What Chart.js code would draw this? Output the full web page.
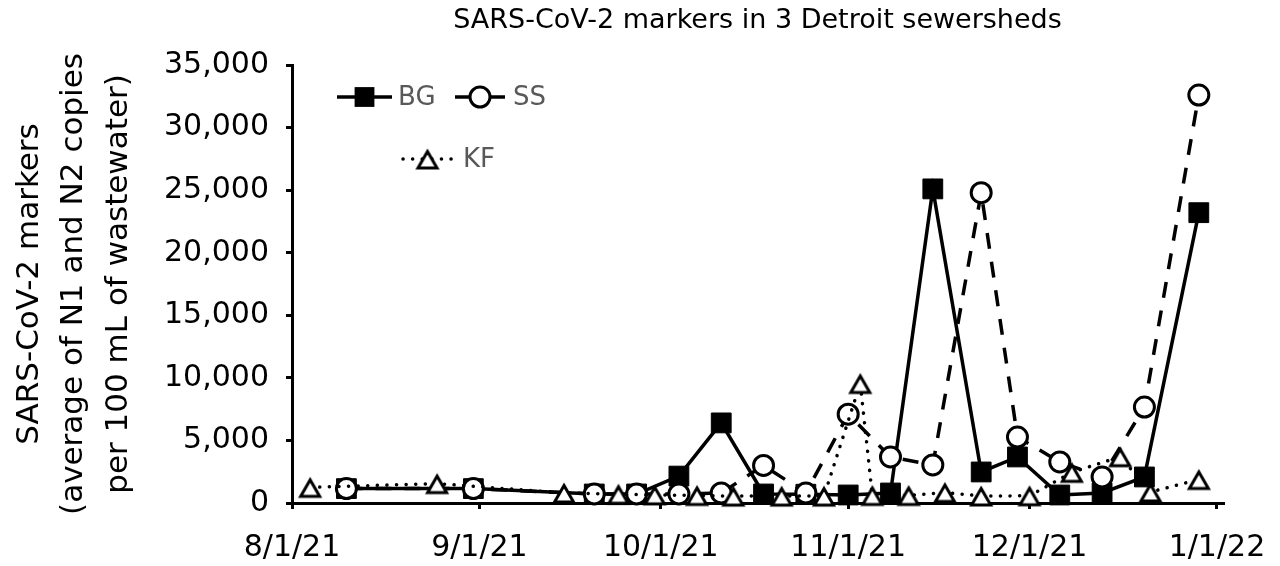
<!DOCTYPE html>
<html>
<head>
<meta charset="utf-8">
<script src="https://cdn.jsdelivr.net/npm/chart.js@4.4.1/dist/chart.umd.min.js"></script>
<style>
html,body{margin:0;padding:0;background:#fff;}
#wrap{width:1280px;height:566px;position:relative;}
</style>
</head>
<body>
<div id="wrap"><canvas id="c" width="1280" height="566"></canvas></div>
<script>
// ---- data ----
const chartTitle = 'SARS-CoV-2 markers in 3 Detroit sewersheds';
const yTitle = ['SARS-CoV-2 markers', '(average of N1 and N2 copies', 'per 100 mL of wastewater)'];
const xTickLabels = ['8/1/21', '9/1/21', '10/1/21', '11/1/21', '12/1/21', '1/1/22'];
const xAxisEnd = '1/2/22';
const yMax = 35000;
const yStep = 5000;

const bgDates = ['8/10/21','8/31/21','9/20/21','9/27/21','10/4/21','10/11/21','10/18/21','10/25/21','11/1/21','11/8/21','11/15/21','11/23/21','11/29/21','12/6/21','12/13/21','12/20/21','12/29/21'];
const bgValues = [1150, 1150, 720, 720, 2150, 6400, 720, 700, 640, 800, 25100, 2480, 3680, 640, 800, 2080, 23200];

const ssDates = ['8/10/21','8/31/21','9/20/21','9/27/21','10/4/21','10/11/21','10/18/21','10/25/21','11/1/21','11/8/21','11/15/21','11/23/21','11/29/21','12/6/21','12/13/21','12/20/21','12/29/21'];
const ssValues = [1150, 1150, 720, 720, 720, 800, 3000, 800, 7100, 3680, 3040, 24800, 5270, 3280, 2080, 7670, 32600];

const kfDates = ['8/4/21','8/25/21','9/15/21','9/24/21','9/30/21','10/7/21','10/13/21','10/21/21','10/28/21','11/3/21','11/5/21','11/11/21','11/17/21','11/23/21','12/1/21','12/8/21','12/16/21','12/21/21','12/29/21'];
const kfValues = [1250, 1550, 800, 700, 650, 600, 550, 550, 550, 9550, 600, 600, 840, 560, 575, 2450, 3700, 880, 1880];

const seriesNames = ['BG', 'SS', 'KF'];

// ---- helpers ----
function dayNum(s) {
  const p = s.split('/').map(Number);
  return Date.UTC(2000 + p[2], p[0] - 1, p[1]) / 86400000;
}
const origin = dayNum(xTickLabels[0]);
const toPoints = (dates, vals) => dates.map((d, i) => ({ x: dayNum(d) - origin, y: vals[i] }));

const FONT = 'DejaVu Sans';

function makeTriangle() {
  const c = document.createElement('canvas');
  c.width = 30; c.height = 30;
  const g = c.getContext('2d');
  g.lineWidth = 3;
  g.lineJoin = 'miter';
  g.strokeStyle = '#000';
  g.fillStyle = '#fff';
  g.beginPath();
  g.moveTo(15, 7.5);
  g.lineTo(24.5, 24);
  g.lineTo(5.5, 24);
  g.closePath();
  g.fill();
  g.stroke();
  return c;
}
const triangleImg = makeTriangle();

const datasets = [
  {
    label: seriesNames[0],
    data: toPoints(bgDates, bgValues),
    borderColor: '#000', borderWidth: 3.5,
    pointStyle: 'rect', pointRadius: 14, pointBackgroundColor: '#000', pointBorderColor: '#000', pointBorderWidth: 1,
    order: 2, clip: false
  },
  {
    label: seriesNames[1],
    data: toPoints(ssDates, ssValues),
    borderColor: '#000', borderWidth: 3.5, borderDash: [16, 13],
    pointStyle: 'circle', pointRadius: 10, pointBackgroundColor: '#fff', pointBorderColor: '#000', pointBorderWidth: 3,
    order: 1, clip: false
  },
  {
    label: seriesNames[2],
    data: toPoints(kfDates, kfValues),
    borderColor: '#000', borderWidth: 3.5, borderDash: [0.1, 9.5], borderCapStyle: 'round',
    pointStyle: triangleImg, pointRadius: 12, pointBackgroundColor: '#fff', pointBorderColor: '#000',
    order: 0, clip: false
  }
];

// legend drawn inside the plot, using the datasets' own styles
const insideLegend = {
  id: 'insideLegend',
  afterDraw(chart) {
    const ctx = chart.ctx;
    const items = [
      { i: 0, x0: 337, x1: 392, y: 97, tx: 398 },
      { i: 1, x0: 455, x1: 505, y: 97, tx: 513 },
      { i: 2, x0: 403, x1: 452, y: 159, tx: 463 }
    ];
    ctx.save();
    items.forEach(it => {
      const ds = chart.data.datasets[it.i];
      ctx.strokeStyle = ds.borderColor;
      ctx.lineWidth = ds.borderWidth;
      ctx.lineCap = ds.borderCapStyle || 'butt';
      ctx.setLineDash(it.i === 1 ? [] : (ds.borderDash || []));
      ctx.beginPath();
      ctx.moveTo(it.x0, it.y);
      ctx.lineTo(it.x1, it.y);
      ctx.stroke();
      ctx.setLineDash([]);
      const cx = (it.x0 + it.x1) / 2;
      if (ds.pointStyle === 'rect') {
        const s = ds.pointRadius * Math.SQRT1_2;
        ctx.fillStyle = ds.pointBackgroundColor;
        ctx.fillRect(cx - s, it.y - s, 2 * s, 2 * s);
      } else if (ds.pointStyle === 'circle') {
        ctx.beginPath();
        ctx.arc(cx, it.y, ds.pointRadius, 0, Math.PI * 2);
        ctx.fillStyle = ds.pointBackgroundColor;
        ctx.fill();
        ctx.lineWidth = ds.pointBorderWidth;
        ctx.stroke();
      } else {
        const img = ds.pointStyle;
        ctx.drawImage(img, cx - img.width / 2, it.y - img.height / 2);
      }
      ctx.fillStyle = '#595959';
      ctx.font = '26px "' + FONT + '"';
      ctx.textAlign = 'left';
      ctx.textBaseline = 'middle';
      ctx.fillText(ds.label, it.tx, it.y + 1);
    });
    ctx.restore();
  }
};

new Chart(document.getElementById('c'), {
  type: 'line',
  data: { datasets },
  plugins: [insideLegend],
  options: {
    responsive: false,
    animation: false,
    devicePixelRatio: 1,
    events: [],
    layout: { padding: { left: 0, right: 57, top: 0, bottom: 0 } },
    elements: { line: { tension: 0 } },
    plugins: {
      legend: { display: false },
      tooltip: { enabled: false },
      title: {
        display: true,
        text: chartTitle,
        fullSize: false,
        color: '#000',
        font: { family: FONT, size: 27, weight: 'normal', lineHeight: 1.2 },
        padding: { top: 5, bottom: 27.6 }
      }
    },
    scales: {
      x: {
        type: 'linear',
        min: 0,
        max: dayNum(xAxisEnd) - origin,
        afterBuildTicks: (axis) => { axis.ticks = xTickLabels.map(l => ({ value: dayNum(l) - origin })); },
        afterFit: (axis) => { axis.height = 63; axis.paddingRight = 0; axis.paddingLeft = 0; },
        ticks: {
          autoSkip: false,
          maxRotation: 0,
          color: '#000',
          font: { family: FONT, size: 30 },
          padding: 21,
          callback: (v, i) => xTickLabels[i]
        },
        grid: { display: true, drawOnChartArea: false, drawTicks: true, tickLength: 6, color: '#000', lineWidth: 3 },
        border: { display: true, color: '#000', width: 3 }
      },
      y: {
        min: 0,
        max: yMax,
        afterFit: (axis) => { axis.width = 292; },
        ticks: {
          stepSize: yStep,
          color: '#000',
          font: { family: FONT, size: 30 },
          padding: 17,
          callback: (v) => Number(v).toLocaleString('en-US')
        },
        grid: { display: true, drawOnChartArea: false, drawTicks: true, tickLength: 6, color: '#000', lineWidth: 3 },
        border: { display: true, color: '#000', width: 3 },
        title: {
          display: true,
          text: yTitle,
          color: '#000',
          font: { family: FONT, size: 31, lineHeight: 1.45 },
          padding: { top: 7, bottom: 0 }
        }
      }
    }
  }
});
</script>
</body>
</html>
